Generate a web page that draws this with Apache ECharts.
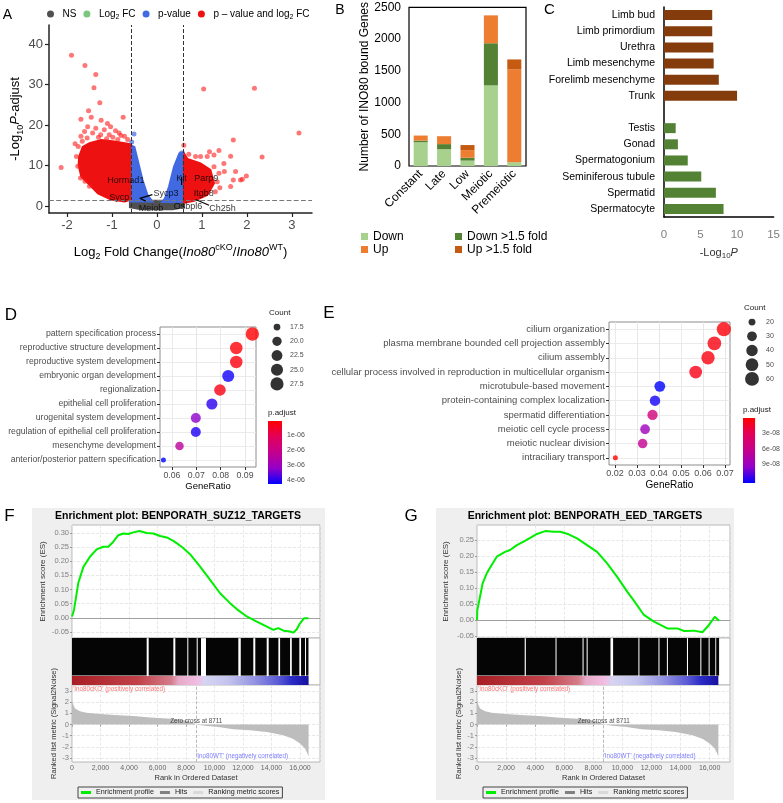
<!DOCTYPE html>
<html><head><meta charset="utf-8">
<script src="https://cdn.jsdelivr.net/npm/echarts@6/dist/echarts.min.js"></script>
<style>html,body{margin:0;padding:0;background:#fff}#c{width:783px;height:803px}</style>
</head><body><div id="c"></div>
<script>
const FONT = '"Liberation Sans", Arial, Helvetica, sans-serif';

// ================= A: volcano data =================
const volcanoNSCloud = [[-0.6,1.3],[0.6,1.3],[0.6,-0.3],[0.35,-0.8],[-0.35,-0.8],[-0.6,-0.3]];
const volcanoPvalLeftCloud = [[-0.59,15.0],[-0.5,14.6],[-0.43,11.4],[-0.32,6.4],[-0.21,2.7],[-0.1,1.1],[-0.59,1.1]];
const volcanoPvalRightCloud = [[0.59,13.2],[0.5,13.0],[0.38,9.7],[0.27,4.8],[0.18,1.9],[0.12,1.0],[0.59,1.0]];
const volcanoSigLeftCloud = [[-1.68,7.2],[-1.74,10],[-1.73,12.2],[-1.65,14.6],[-1.5,15.5],[-1.24,16.3],[-0.95,15.9],[-0.6,15.3],[-0.6,1.5],[-0.72,1.1],[-1.02,1.6],[-1.31,3.1],[-1.53,5.6]];
const volcanoSigRightCloud = [[0.6,13.0],[0.68,11.6],[0.97,10.5],[1.19,8.9],[1.27,5.6],[1.12,2.7],[0.83,1.3],[0.6,0.8]];
const volcanoSigPoints = [[-1.90,37.2],[-1.60,34.7],[-1.36,32.5],[-1.40,29.2],[-1.27,25.5],[-1.52,23.5],[-1.69,21.4],[-1.46,21.9],[-0.75,21.9],[-1.82,15.4],[-2.13,9.5],[-1.24,21.2],[-1.10,20.4],[-1.54,19.6],[-1.36,19.2],[-1.17,18.8],[-0.92,18.6],[-1.03,19.6],[-0.84,18.0],[-1.61,18.4],[-1.69,17.2],[-1.43,18.0],[-1.25,17.6],[-1.06,17.6],[-0.72,17.2],[-1.75,14.7],[-1.79,12.2],[-1.76,9.8],[-1.70,6.9],[-0.65,16.4],[-0.87,16.4],[-1.60,6.1],[-1.50,4.9],[-1.30,17.0],[-1.55,16.8],[-0.98,17.0],[-1.12,16.6],[-1.66,16.0],[-0.80,17.4],
  [1.04,28.9],[2.17,29.1],[3.16,18.0],[2.34,12.1],[1.99,7.4],[1.70,16.3],[1.38,13.7],[1.17,13.4],[1.64,12.3],[0.97,12.2],[1.27,12.6],[1.49,10.5],[1.75,8.5],[1.50,8.5],[1.86,6.4],[1.70,6.4],[1.64,4.8],[1.38,8.1],[1.27,9.7],[1.34,6.0],[1.12,12.2],[0.86,12.2],[0.71,12.8],[0.60,15.0],[1.90,6.6],[1.40,4.5],[1.30,3.5]];
const volcanoPvalPoints = [[-0.51,17.8],[0.55,13.1],[-0.56,15.8],[0.52,12.2]];
const volcanoGenes = ['Hormad1','Sycp','Sycp3','Meiob','Kit','Parp9','Itgb8','Osbpl6','Ch25h'];
const volcanoGeneX = [-0.69,-0.84,0.20,-0.13,0.55,1.10,1.04,0.69,1.46];
const volcanoGeneY = [6.4,2.2,3.2,-0.7,6.7,6.9,3.2,-0.2,-0.5];
const volcanoGeneLines = [[-0.1,2.8,-0.38,1.9],[-0.38,1.9,-0.25,1.2],[0.55,5.2,0.55,7.2],[0.86,1.6,1.16,0.2]];
const volcanoFCcut = [-0.585, 0.585];
const volcanoPcut = 1.3;
const volcanoXTicks = [-2,-1,0,1,2,3];
const volcanoYTicks = [0,10,20,30,40];

// ================= B: stacked bars =================
const bCats = ['Constant','Late','Low','Meiotic','Premeiotic'];
const bDown = [375,265,85,1270,60];
const bDown15 = [25,80,45,665,0];
const bUp = [80,125,120,440,1465];
const bUp15 = [0,0,80,0,155];

// ================= C: tissue enrichment =================
const cCats = ['Limb bud','Limb primordium','Urethra','Limb mesenchyme','Forelimb mesenchyme','Trunk','','Testis','Gonad','Spermatogonium','Seminiferous tubule','Spermatid','Spermatocyte'];
const cUpLog = [6.6,6.6,6.75,6.8,7.5,10.0,null,null,null,null,null,null,null];
const cDownLog = [null,null,null,null,null,null,null,1.6,1.9,3.25,5.1,7.1,8.15];

// ================= D: GO dot plot =================
const dTerms = ['pattern specification process','reproductive structure development','reproductive system development','embryonic organ development','regionalization','epithelial cell proliferation','urogenital system development','regulation of epithelial cell proliferation','mesenchyme development','anterior/posterior pattern specification'];
const dGeneRatio = [0.0930,0.0864,0.0864,0.0831,0.0797,0.0764,0.0698,0.0698,0.0631,0.0565];
const dCount = [28,26,26,25,24,23,21,21,19,17];
const dPadj = [2e-8,1.0e-7,1.5e-7,4.17e-6,2.3e-7,4.0e-6,3.27e-6,4.09e-6,2.37e-6,4.3e-6];
const dCountLegend = ['17.5','20.0','22.5','25.0','27.5'];
const dPadjTicks = [1e-6,2e-6,3e-6,4e-6];
const dRatioTicks = [0.06,0.07,0.08,0.09];
const dRatioGrid = [0.06,0.065,0.07,0.075,0.08,0.085,0.09];

// ================= E: GO dot plot =================
const eTerms = ['cilium organization','plasma membrane bounded cell projection assembly','cilium assembly','cellular process involved in reproduction in multicellular organism','microtubule-based movement','protein-containing complex localization','spermatid differentiation','meiotic cell cycle process','meiotic nuclear division','intraciliary transport'];
const eGeneRatio = [0.0695,0.0652,0.0623,0.0567,0.0404,0.0382,0.0371,0.0337,0.0326,0.0202];
const eCount = [62,58,55,50,36,34,33,30,29,18];
const ePadj = [4.5e-9,8e-9,7e-9,9.5e-9,1.25e-7,1.21e-7,5.1e-8,8.8e-8,6.35e-8,2e-9];
const eCountLegend = ['20','30','40','50','60'];
const ePadjTicks = [3e-8,6e-8,9e-8];
const eRatioTicks = [0.02,0.03,0.04,0.05,0.06,0.07];
const eRatioGrid = [0.02,0.025,0.03,0.035,0.04,0.045,0.05,0.055,0.06,0.065,0.07];

// ================= F / G: GSEA =================
const esF = [[0,0.005],[140,0.028],[440,0.123],[800,0.18],[1260,0.216],[1730,0.242],[2200,0.251],[2550,0.251],[2900,0.269],[3250,0.292],[3600,0.298],[3950,0.296],[4300,0.302],[4730,0.307],[5240,0.300],[5710,0.298],[6180,0.289],[6650,0.284],[7110,0.272],[7700,0.251],[8280,0.225],[8990,0.181],[9690,0.134],[10390,0.087],[11090,0.052],[11560,0.031],[12260,0.005],[12960,-0.013],[13670,-0.031],[14130,-0.042],[14480,-0.036],[14840,-0.045],[15300,-0.048],[15540,-0.052],[15770,-0.040],[16000,-0.019],[16290,-0.001],[16430,0.005],[16590,-0.001]];
const esG = [[0,0.0],[20,0.031],[207,0.073],[390,0.115],[670,0.146],[1010,0.172],[1360,0.198],[1930,0.213],[2280,0.219],[2740,0.234],[3200,0.245],[3660,0.257],[4120,0.269],[4690,0.278],[5270,0.276],[5730,0.276],[6300,0.268],[6880,0.255],[7570,0.234],[8260,0.213],[8950,0.177],[9640,0.135],[10330,0.089],[10800,0.060],[11480,0.016],[12170,-0.005],[13090,-0.026],[13780,-0.026],[14240,-0.034],[14930,-0.033],[15500,-0.038],[15850,-0.021],[16190,0.0],[16350,0.010],[16650,-0.002]];
const hitsF = [[0,5240],[5380,7110],[7250,8090],[8160,8750],[8820,9050],[9400,11670],[11840,12720],[12860,13660],[13800,14480],[14600,15300],[15420,15950],[16070,16350],[16420,16590]];
const hitsG = [[0,3280],[3360,5400],[5470,7260],[7330,7540],[7610,9180],[9360,11100],[11170,12480],[12550,13060],[13130,14440],[14510,15360],[15430,15930],[16000,16390],[16450,16650]];
const rankMetric = [[0,2.25],[60,1.9],[210,1.43],[560,1.19],[1000,1.06],[1970,0.95],[3000,0.85],[4300,0.76],[5500,0.64],[6650,0.54],[7500,0.45],[7980,0.36],[8400,0.2],[8711,0],[9450,-0.12],[10160,-0.2],[11320,-0.42],[12500,-0.52],[13660,-0.66],[14830,-0.96],[15530,-1.3],[16000,-1.7],[16350,-2.15],[16520,-2.6],[16600,-2.9]];
const rankListEnd = 16600;
const zeroCross = 8711;
const esTicksF = [-0.05,0,0.05,0.10,0.15,0.20,0.25,0.30];
const esTicksG = [-0.05,0,0.05,0.10,0.15,0.20,0.25];
const metricTicks = [-3,-2,-1,0,1,2,3];

// ================= helpers =================
const pColors = ['#ff0000','#e2005a','#c4008e','#9400c8','#0000ff'];
function sci(v){ const e=Math.floor(Math.log10(v)+1e-9); const m=Math.round(v/Math.pow(10,e)); return m+'e-'+String(-e).padStart(2,'0'); }
function sizeD(c){ return 5 + 8.3*Math.sqrt(Math.max(0,c-17)/11); }
function sizeE(c){ return 5 + 9*Math.sqrt(Math.max(0,c-18)/43); }
const gradV = {type:'linear',x:0,y:0,x2:0,y2:1,colorStops:pColors.map((c,i)=>({offset:i/(pColors.length-1),color:c}))};
const stripStops = [[0,'#a81e24'],[0.28,'#c2424a'],[0.42,'#d47d8a'],[0.45,'#e6a9c8'],[0.53,'#f2bde2'],[0.56,'#d6d4f2'],[0.66,'#c3c3ee'],[0.77,'#9494e2'],[0.87,'#5c5cd6'],[0.93,'#2a2ac6'],[1,'#16109e']];

function poly(name, pts, color){
  return {type:'custom', name, xAxisIndex:0, yAxisIndex:0, data:[[0,0]], silent:true, z:1,
    itemStyle:{color},
    renderItem:(p,api)=>({type:'polygon', shape:{points:pts.map(q=>api.coord(q))}, style:{fill:color, stroke:color, lineWidth:2}})};
}
const sub = (fs,col)=>({fontSize:fs, verticalAlign:'bottom', lineHeight:fs+2, fontFamily:FONT, color:col});
const sup = (fs,col)=>({fontSize:fs, verticalAlign:'top', lineHeight:fs+2, fontFamily:FONT, color:col});
const nrm = (fs,col,lh)=>({fontSize:fs, fontFamily:FONT, color:col, lineHeight:lh});
const ital = (fs,col,lh)=>({fontSize:fs, fontFamily:FONT, color:col, fontStyle:'italic', lineHeight:lh});

// ================= grids =================
const gseaGrid = (l,w,t,h)=>({left:l, top:t, width:w, height:h, show:true, borderColor:'#b8b8b8', borderWidth:1, backgroundColor:'#fff'});
const grid = [
  {left:49, top:25, width:263, height:188},
  {left:409, top:6, width:117, height:160, show:true, borderColor:'#000', borderWidth:1.2, backgroundColor:'rgba(0,0,0,0)'},
  {left:664, top:7, width:111, height:210},
  {left:160, top:327, width:96, height:140, show:true, borderColor:'#8c8c8c', borderWidth:1, backgroundColor:'#fff'},
  {left:270, top:320, width:14, height:71},
  {left:268, top:421, width:14, height:63, show:true, borderWidth:0, backgroundColor:gradV},
  {left:609, top:322, width:121, height:143, show:true, borderColor:'#8c8c8c', borderWidth:1, backgroundColor:'#fff'},
  {left:745, top:315, width:14, height:71},
  {left:743, top:418, width:14, height:65, show:true, borderWidth:0, backgroundColor:gradV},
  gseaGrid(72,248,525,113), gseaGrid(72,248,638,47), gseaGrid(72,248,685,77),
  gseaGrid(477,253,525,113), gseaGrid(477,253,638,47), gseaGrid(477,253,685,77)
];

const xAxis = [], yAxis = [];
// A
xAxis.push({gridIndex:0, type:'value', min:-2.4, max:3.45,
  axisLine:{show:true, onZero:false, lineStyle:{color:'#222', width:1.5}},
  axisTick:{show:true, customValues:volcanoXTicks, length:4, lineStyle:{color:'#222', width:1.2}},
  axisLabel:{customValues:volcanoXTicks, fontSize:13, color:'#4d4d4d', margin:6, fontFamily:FONT},
  splitLine:{show:false},
  name:'{n|Log}{sub|2}{n| Fold Change(}{i|Ino80}{sup|cKO}{n|/}{i|Ino80}{sup|WT}{n|)}', nameLocation:'middle', nameGap:30,
  nameTextStyle:{rich:{n:nrm(13,'#000',18), i:ital(13,'#000',18), sub:sub(9,'#000'), sup:sup(9,'#000')}}});
yAxis.push({gridIndex:0, type:'value', min:-1.73, max:44.7,
  axisLine:{show:true, onZero:false, lineStyle:{color:'#222', width:1.5}},
  axisTick:{show:true, customValues:volcanoYTicks, length:4, lineStyle:{color:'#222', width:1.2}},
  axisLabel:{customValues:volcanoYTicks, fontSize:13, color:'#4d4d4d', margin:6, fontFamily:FONT},
  splitLine:{show:false},
  name:'{n|-Log}{sub|10}{i|P}{n|-adjust}', nameLocation:'middle', nameRotate:90, nameGap:24,
  nameTextStyle:{rich:{n:nrm(13,'#000',18), i:ital(13,'#000',18), sub:sub(9,'#000')}}});
// B
xAxis.push({gridIndex:1, type:'category', data:bCats, axisLine:{show:false}, axisTick:{show:false},
  axisLabel:{rotate:45, interval:0, fontSize:12, color:'#000', margin:6, fontFamily:FONT}});
yAxis.push({gridIndex:1, type:'value', min:0, max:2500, interval:500, axisLine:{show:false}, axisTick:{show:false}, splitLine:{show:false},
  axisLabel:{fontSize:12, color:'#000', margin:8, fontFamily:FONT, formatter:v=>String(v)},
  name:'Number of INO80 bound Genes', nameLocation:'middle', nameRotate:90, nameGap:38, nameTextStyle:{fontSize:12, color:'#000', fontFamily:FONT}});
// C
xAxis.push({gridIndex:2, type:'value', min:0, max:15, interval:5,
  axisLine:{show:true, onZero:false, lineStyle:{color:'#000', width:1.5}}, axisTick:{show:false}, splitLine:{show:false},
  axisLabel:{fontSize:11.5, color:'#7f7f7f', margin:12, fontFamily:FONT},
  name:'{n|-Log}{sub|10}{i|P}', nameLocation:'middle', nameGap:28,
  nameTextStyle:{rich:{n:nrm(11,'#333',15), i:ital(11,'#333',15), sub:sub(8,'#333')}}});
yAxis.push({gridIndex:2, type:'category', data:cCats, inverse:true,
  axisLine:{show:true, onZero:false, lineStyle:{color:'#000', width:1.5}}, axisTick:{show:false},
  axisLabel:{fontSize:10.5, color:'#000', margin:9, fontFamily:FONT}});
// D
xAxis.push({gridIndex:3, type:'value', min:0.0551, max:0.0945, axisLine:{show:false}, splitLine:{show:false},
  axisTick:{show:true, customValues:dRatioTicks, length:3, lineStyle:{color:'#333'}},
  axisLabel:{customValues:dRatioTicks, fontSize:8.7, color:'#4d4d4d', margin:4, fontFamily:FONT, formatter:v=>v.toFixed(2)},
  name:'GeneRatio', nameLocation:'middle', nameGap:14, nameTextStyle:{fontSize:9.5, color:'#000', fontFamily:FONT}});
yAxis.push({gridIndex:3, type:'category', data:dTerms, inverse:true, axisLine:{show:false}, splitLine:{show:false},
  axisTick:{show:true, length:3, alignWithLabel:true, lineStyle:{color:'#333'}},
  axisLabel:{fontSize:8.7, color:'#4d4d4d', margin:4, fontFamily:FONT}});
// D count legend
xAxis.push({gridIndex:4, type:'value', min:0, max:1, show:false});
yAxis.push({gridIndex:4, type:'category', data:dCountLegend, inverse:true, position:'right', axisLine:{show:false}, axisTick:{show:false},
  axisLabel:{fontSize:7, color:'#4d4d4d', margin:6, fontFamily:FONT}});
// D colorbar
xAxis.push({gridIndex:5, type:'value', min:0, max:1, show:false});
yAxis.push({gridIndex:5, type:'value', min:2e-8, max:4.3e-6, inverse:true, position:'right', axisLine:{show:false}, splitLine:{show:false},
  axisTick:{show:true, inside:true, length:3, customValues:dPadjTicks, lineStyle:{color:'#fff'}},
  axisLabel:{customValues:dPadjTicks, formatter:sci, fontSize:7, color:'#4d4d4d', margin:5, fontFamily:FONT}});
// E
xAxis.push({gridIndex:6, type:'value', min:0.0173, max:0.0723, axisLine:{show:false}, splitLine:{show:false},
  axisTick:{show:true, customValues:eRatioTicks, length:3, lineStyle:{color:'#333'}},
  axisLabel:{customValues:eRatioTicks, fontSize:9, color:'#4d4d4d', margin:4, fontFamily:FONT, formatter:v=>v.toFixed(2)},
  name:'GeneRatio', nameLocation:'middle', nameGap:15, nameTextStyle:{fontSize:10, color:'#000', fontFamily:FONT}});
yAxis.push({gridIndex:6, type:'category', data:eTerms, inverse:true, axisLine:{show:false}, splitLine:{show:false},
  axisTick:{show:true, length:3, alignWithLabel:true, lineStyle:{color:'#333'}},
  axisLabel:{fontSize:9.5, color:'#4d4d4d', margin:4, fontFamily:FONT}});
// E count legend
xAxis.push({gridIndex:7, type:'value', min:0, max:1, show:false});
yAxis.push({gridIndex:7, type:'category', data:eCountLegend, inverse:true, position:'right', axisLine:{show:false}, axisTick:{show:false},
  axisLabel:{fontSize:7, color:'#4d4d4d', margin:7, fontFamily:FONT}});
// E colorbar
xAxis.push({gridIndex:8, type:'value', min:0, max:1, show:false});
yAxis.push({gridIndex:8, type:'value', min:2e-9, max:1.25e-7, inverse:true, position:'right', axisLine:{show:false}, splitLine:{show:false},
  axisTick:{show:true, inside:true, length:3, customValues:ePadjTicks, lineStyle:{color:'#fff'}},
  axisLabel:{customValues:ePadjTicks, formatter:sci, fontSize:7, color:'#4d4d4d', margin:7, fontFamily:FONT}});

// GSEA axes
function gseaAxes(g, esMin, esMax, esTicks, esGap, mGap){
  const gl = {show:true, lineStyle:{color:'#e2e2e2', type:'dashed', width:0.8}};
  xAxis.push({gridIndex:g, type:'value', min:0, max:17400, interval:2000, axisLine:{show:false}, axisTick:{show:false}, axisLabel:{show:false}, splitLine:gl});
  yAxis.push({gridIndex:g, type:'value', min:esMin, max:esMax, axisLine:{show:false}, splitLine:{show:false},
    axisTick:{show:true, customValues:esTicks, length:2, lineStyle:{color:'#999'}},
    axisLabel:{customValues:esTicks, formatter:v=>v.toFixed(2), fontSize:7.5, color:'#808080', margin:3, fontFamily:FONT},
    name:'Enrichment score (ES)', nameLocation:'middle', nameRotate:90, nameGap:esGap, nameTextStyle:{fontSize:8, color:'#333', fontFamily:FONT}});
  xAxis.push({gridIndex:g+1, type:'value', min:0, max:17400, show:false});
  yAxis.push({gridIndex:g+1, type:'value', min:0, max:1, show:false});
  xAxis.push({gridIndex:g+2, type:'value', min:0, max:17400, interval:2000, axisLine:{show:false}, splitLine:gl,
    axisTick:{show:true, length:2, lineStyle:{color:'#999'}},
    axisLabel:{fontSize:7, color:'#666', margin:3, fontFamily:FONT, showMaxLabel:false, formatter:v=>(v%2000===0? v.toLocaleString('en-US'):'')},
    name:'Rank in Ordered Dataset', nameLocation:'middle', nameGap:12, nameTextStyle:{fontSize:7.5, color:'#333', fontFamily:FONT}});
  yAxis.push({gridIndex:g+2, type:'value', min:-3.36, max:3.55, axisLine:{show:false}, splitLine:{show:false},
    axisTick:{show:true, customValues:metricTicks, length:2, lineStyle:{color:'#999'}},
    axisLabel:{customValues:metricTicks, fontSize:7.5, color:'#808080', margin:3, fontFamily:FONT},
    name:'Ranked list metric (Signal2Noise)', nameLocation:'middle', nameRotate:90, nameGap:mGap, nameTextStyle:{fontSize:7.5, color:'#333', fontFamily:FONT}});
}
gseaAxes(9, -0.071, 0.328, esTicksF, 25, 12);
gseaAxes(12, -0.056, 0.297, esTicksG, 27, 13);

// ================= series =================
const series = [];
// A
series.push(poly('NS', volcanoNSCloud, '#505050'));
series.push({type:'scatter', name:'Log2 FC', xAxisIndex:0, yAxisIndex:0, data:[], itemStyle:{color:'#5cb85c'}});
series.push(poly('p-value', volcanoPvalLeftCloud, '#4169e1'));
series.push(poly('p-value', volcanoPvalRightCloud, '#4169e1'));
series.push({type:'scatter', name:'p-value', xAxisIndex:0, yAxisIndex:0, data:volcanoPvalPoints, symbolSize:5, itemStyle:{color:'#4169e1', opacity:0.7}, z:2});
series.push(poly('p – value and log2 FC', volcanoSigLeftCloud, '#ee1111'));
series.push(poly('p – value and log2 FC', volcanoSigRightCloud, '#ee1111'));
series.push({type:'scatter', name:'p – value and log2 FC', xAxisIndex:0, yAxisIndex:0, data:volcanoSigPoints, symbolSize:5, itemStyle:{color:'#ff1a1a', opacity:0.6}, z:2});
series.push({type:'custom', xAxisIndex:0, yAxisIndex:0, data:volcanoGeneLines, silent:true, z:4,
  encode:{x:[0,2], y:[1,3]},
  renderItem:(p,api)=>{const a=api.coord([api.value(0),api.value(1)]), b=api.coord([api.value(2),api.value(3)]);
    return {type:'line', shape:{x1:a[0],y1:a[1],x2:b[0],y2:b[1]}, style:{stroke:'#000', lineWidth:1.2}};}});
series.push({type:'scatter', xAxisIndex:0, yAxisIndex:0, symbolSize:0, silent:true, z:5,
  data:volcanoGenes.map((g,i)=>[volcanoGeneX[i], volcanoGeneY[i], g]),
  label:{show:true, position:'inside', formatter:p=>p.value[2], fontSize:9, color:'#000', fontFamily:FONT},
  markLine:{silent:true, symbol:['none','none'], label:{show:false}, z:3,
    data:[{xAxis:volcanoFCcut[0], lineStyle:{color:'#333', type:'dashed', width:1}},
          {xAxis:volcanoFCcut[1], lineStyle:{color:'#333', type:'dashed', width:1}},
          {yAxis:volcanoPcut, lineStyle:{color:'#777', type:'dashed', width:1.2}}]}});
// B
const bCol = {Down:'#a9d18e', D15:'#548235', Up:'#ed7d31', U15:'#c55a11'};
[['Down',bDown,bCol.Down],['Down >1.5 fold',bDown15,bCol.D15],['Up',bUp,bCol.Up],['Up >1.5 fold',bUp15,bCol.U15]].forEach(s=>{
  series.push({type:'bar', name:s[0], xAxisIndex:1, yAxisIndex:1, stack:'b', data:s[1], barWidth:'60%', itemStyle:{color:s[2]}});
});
// C
series.push({type:'bar', name:'c-up', xAxisIndex:2, yAxisIndex:2, stack:'c', data:cUpLog, barWidth:10, itemStyle:{color:'#843c0c'}});
series.push({type:'bar', name:'c-down', xAxisIndex:2, yAxisIndex:2, stack:'c', data:cDownLog, barWidth:10, itemStyle:{color:'#548235'}});
// D
const gridLineStyle = {color:'#e6e6e6', width:0.8, type:'solid'};
series.push({type:'line', xAxisIndex:3, yAxisIndex:3, data:[[0.07, dTerms[0]]], symbol:'none', lineStyle:{opacity:0}, silent:true,
  markLine:{silent:true, z:1, symbol:['none','none'], label:{show:false}, lineStyle:gridLineStyle,
    data:[...dTerms.map(t=>({yAxis:t})), ...dRatioGrid.map(v=>({xAxis:v}))]}});
const dIdx = series.length;
series.push({type:'scatter', xAxisIndex:3, yAxisIndex:3, z:3,
  data:dTerms.map((t,i)=>[dGeneRatio[i], t, dCount[i], dPadj[i]]), symbolSize:v=>sizeD(v[2])});
series.push({type:'scatter', xAxisIndex:4, yAxisIndex:4, silent:true,
  data:dCountLegend.map(c=>[0.5, c, parseFloat(c)]), symbolSize:v=>sizeD(v[2]), itemStyle:{color:'#000'}});
// E
series.push({type:'line', xAxisIndex:6, yAxisIndex:6, data:[[0.04, eTerms[0]]], symbol:'none', lineStyle:{opacity:0}, silent:true,
  markLine:{silent:true, z:1, symbol:['none','none'], label:{show:false}, lineStyle:gridLineStyle,
    data:[...eTerms.map(t=>({yAxis:t})), ...eRatioGrid.map(v=>({xAxis:v}))]}});
const eIdx = series.length;
series.push({type:'scatter', xAxisIndex:6, yAxisIndex:6, z:3,
  data:eTerms.map((t,i)=>[eGeneRatio[i], t, eCount[i], ePadj[i]]), symbolSize:v=>sizeE(v[2])});
series.push({type:'scatter', xAxisIndex:7, yAxisIndex:7, silent:true,
  data:eCountLegend.map(c=>[0.5, c, parseFloat(c)]), symbolSize:v=>sizeE(v[2]), itemStyle:{color:'#000'}});

// GSEA
function gseaSeries(g, es, hits, esTicks){
  series.push({type:'line', name:'Enrichment profile', xAxisIndex:g, yAxisIndex:g, data:es, symbol:'none', z:3,
    lineStyle:{color:'#00ee00', width:2}, itemStyle:{color:'#00ee00'},
    markLine:{silent:true, z:1, symbol:['none','none'], label:{show:false},
      data:[...esTicks.filter(v=>v!==0).map(v=>({yAxis:v, lineStyle:{color:'#e2e2e2', type:'dashed', width:0.8}})),
            {yAxis:0, lineStyle:{color:'#a0a0a0', type:'solid', width:1}}]}});
  series.push({type:'custom', name:'Hits', xAxisIndex:g+1, yAxisIndex:g+1, silent:true, itemStyle:{color:'#808080'},
    data:hits.map(h=>[h[0],0.6,h[1]]), encode:{x:0, y:1},
    renderItem:(p,api)=>{const a=api.coord([api.value(0),1]), b=api.coord([api.value(2),0.2]);
      return {type:'rect', shape:{x:a[0], y:a[1], width:Math.max(0.8,b[0]-a[0]), height:b[1]-a[1]}, style:{fill:'#050505'}};}});
  series.push({type:'custom', xAxisIndex:g+1, yAxisIndex:g+1, silent:true, data:[[0,0.1,rankListEnd]], encode:{x:0,y:1},
    renderItem:(p,api)=>{const a=api.coord([api.value(0),0.19]), b=api.coord([api.value(2),0]);
      return {type:'rect', shape:{x:a[0], y:a[1], width:b[0]-a[0], height:b[1]-a[1]},
        style:{fill:new echarts.graphic.LinearGradient(0,0,1,0, stripStops.map(s=>({offset:s[0], color:s[1]})))}};}});
  series.push({type:'line', name:'Ranking metric scores', xAxisIndex:g+2, yAxisIndex:g+2, data:rankMetric, symbol:'none', z:2,
    lineStyle:{width:0}, areaStyle:{color:'#bdbdbd', opacity:1}, itemStyle:{color:'#d6d6d6'},
    markLine:{silent:true, z:1, symbol:['none','none'], label:{show:false},
      data:[...metricTicks.map(v=>({yAxis:v, lineStyle:{color:'#e2e2e2', type:'dashed', width:0.8}})),
            {xAxis:zeroCross, lineStyle:{color:'#aaa', type:'dashed', width:0.8}}]}});
  series.push({type:'scatter', xAxisIndex:g+2, yAxisIndex:g+2, symbolSize:0, silent:true, z:5,
    data:[{value:[0,3.2], label:{formatter:"'Ino80cKO' (positively correlated)", position:'right', distance:1, color:'#ff4d4d'}},
          {value:[zeroCross,0], label:{formatter:'Zero cross at '+zeroCross, position:'top', distance:0, color:'#222'}},
          {value:[zeroCross,-2.8], label:{formatter:"'Ino80WT' (negatively correlated)", position:'right', distance:0, color:'#5a5aff'}}],
    label:{show:true, fontSize:6.3, fontFamily:FONT}});
}
gseaSeries(9, esF, hitsF, esTicksF);
gseaSeries(12, esG, hitsG, esTicksG);

// ================= legends =================
const legTxt = {fontSize:10, fontFamily:FONT, color:'#000', rich:{n:nrm(10,'#000',13), sub:sub(7,'#000')}};
const legend = [
  {left:42, top:4, itemWidth:14, itemHeight:7, itemGap:7, icon:'circle', selectedMode:false,
    data:['NS','Log2 FC','p-value','p – value and log2 FC'],
    formatter:n=>n==='Log2 FC'?'{n|Log}{sub|2}{n| FC}':(n==='p – value and log2 FC'?'{n|p – value and log}{sub|2}{n| FC}':'{n|'+n+'}'),
    textStyle:legTxt},
  {left:356, top:225, orient:'vertical', itemWidth:7, itemHeight:7, itemGap:0, icon:'rect', selectedMode:false,
    data:['Down','Up'], textStyle:{fontSize:12, fontFamily:FONT, color:'#000', lineHeight:13}},
  {left:450, top:225, orient:'vertical', itemWidth:7, itemHeight:7, itemGap:0, icon:'rect', selectedMode:false,
    data:['Down >1.5 fold','Up >1.5 fold'], textStyle:{fontSize:12, fontFamily:FONT, color:'#000', lineHeight:13}},
];
function gseaLegend(l){
  return {left:l, top:787, itemWidth:10, itemHeight:3, itemGap:6, icon:'rect', selectedMode:false,
    borderColor:'#444', borderWidth:1, padding:[2,3], backgroundColor:'#efefef',
    data:[{name:'Enrichment profile', itemStyle:{color:'#00ee00'}},{name:'Hits', itemStyle:{color:'#808080'}},{name:'Ranking metric scores', itemStyle:{color:'#d9d9d9'}}],
    textStyle:{fontSize:7.2, fontFamily:FONT, color:'#222'}};
}
legend.push(gseaLegend(78), gseaLegend(483));

// ================= graphic (panel letters, titles, backgrounds) =================
const letter = (t,x,y,fs)=>({type:'text', x, y, style:{text:t, fontSize:fs, fontFamily:FONT, fill:'#000', textAlign:'center', textVerticalAlign:'middle'}});
const small = (t,x,y,fs)=>({type:'text', x, y, style:{text:t, fontSize:fs, fontFamily:FONT, fill:'#222', textAlign:'left', textVerticalAlign:'middle'}});
const graphic = [
  {type:'rect', shape:{x:32, y:508, width:293, height:292}, style:{fill:'#efefef'}, z:-100},
  {type:'rect', shape:{x:436, y:508, width:298, height:292}, style:{fill:'#efefef'}, z:-100},
  letter('A',7.5,15,14), letter('B',340,10,14), letter('C',549.5,9.5,15),
  letter('D',11,315,17), letter('E',329,313,17), letter('F',9.5,516.5,17), letter('G',411,516.5,17),
  small('Count',269,313,8), small('p.adjust',268,413,8), small('Count',744,308,8), small('p.adjust',743,410,8),
  {type:'text', x:178, y:516, style:{text:'Enrichment plot: BENPORATH_SUZ12_TARGETS', fontSize:10.5, fontWeight:'bold', fontFamily:FONT, fill:'#000', textAlign:'center', textVerticalAlign:'middle'}},
  {type:'text', x:585, y:516, style:{text:'Enrichment plot: BENPORATH_EED_TARGETS', fontSize:10.5, fontWeight:'bold', fontFamily:FONT, fill:'#000', textAlign:'center', textVerticalAlign:'middle'}}
];

const option = {
  animation:false, backgroundColor:'#fff',
  textStyle:{fontFamily:FONT},
  grid, xAxis, yAxis, series, legend, graphic,
  visualMap:[
    {type:'continuous', show:false, seriesIndex:dIdx, dimension:3, min:2e-8, max:4.3e-6, inRange:{color:pColors}},
    {type:'continuous', show:false, seriesIndex:eIdx, dimension:3, min:2e-9, max:1.25e-7, inRange:{color:pColors}}
  ]
};
const chart = echarts.init(document.getElementById('c'), null, {renderer:'canvas', width:783, height:803});
chart.setOption(option);
</script></body></html>
